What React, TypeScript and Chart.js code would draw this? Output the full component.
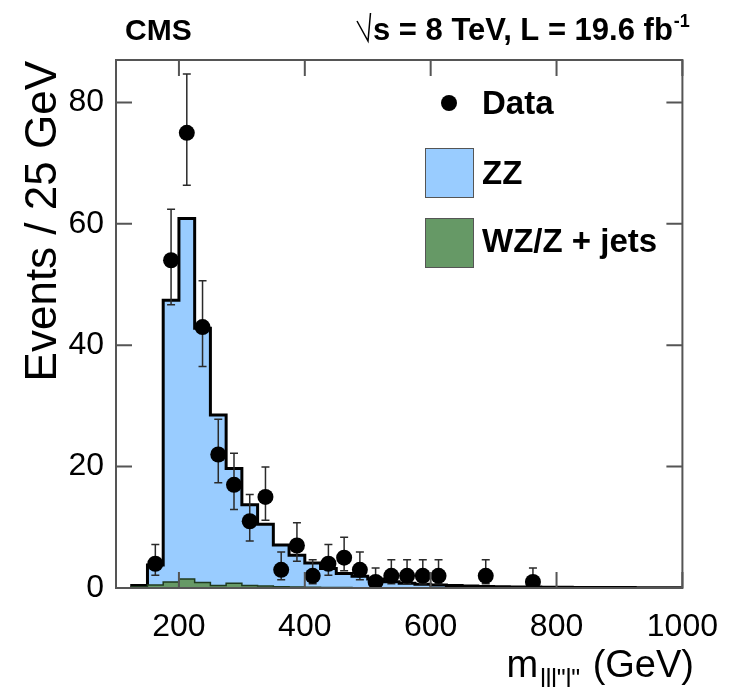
import React, { useEffect, useRef } from 'react';
import { Chart, registerables } from 'chart.js';

Chart.register(...registerables);

// ---------------- data ----------------
const binLowEdges = [125, 150, 175, 200, 225, 250, 275, 300, 325, 350, 375, 400, 425, 450, 475, 500, 525, 550, 575, 600, 625, 650, 675, 700, 725, 750, 775, 800, 825, 850, 875, 900, 925, 950, 975];
const histUpperEdge = 1000;
const wzValues = [0.2, 0.5, 1.0, 1.5, 0.9, 0.4, 0.8, 0.4, 0.35, 0.2, 0.15, 0.12, 0.1, 0.08, 0.06, 0.06, 0.05, 0.05, 0.04, 0.04, 0.03, 0.03, 0.02, 0.02, 0.02, 0.01, 0.01, 0.01, 0.01, 0.01, 0.01, 0, 0, 0, 0];
const zzValues = [0.2, 3.3, 46.4, 59.4, 41.9, 28.1, 18.9, 13.3, 10.15, 6.9, 5.25, 3.98, 3.1, 2.32, 1.89, 1.44, 1.0, 0.75, 0.56, 0.46, 0.37, 0.29, 0.24, 0.19, 0.16, 0.14, 0.12, 0.1, 0.09, 0.08, 0.07, 0.07, 0.06, 0.05, 0.05];

const dataCenters = [162.5, 187.5, 212.5, 237.5, 262.5, 287.5, 312.5, 337.5, 362.5, 387.5, 412.5, 437.5, 462.5, 487.5, 512.5, 537.5, 562.5, 587.5, 612.5, 687.5, 762.5];
const dataCounts = [4, 54, 75, 43, 22, 17, 11, 15, 3, 7, 2, 4, 5, 3, 1, 2, 2, 2, 2, 2, 1];
const dataErrLow = [1.91, 7.32, 8.63, 6.52, 4.65, 4.08, 3.26, 3.82, 1.63, 2.58, 1.29, 1.91, 2.16, 1.63, 0.83, 1.29, 1.29, 1.29, 1.29, 1.29, 0.83];
const dataErrHigh = [3.16, 8.4, 9.7, 7.62, 5.79, 5.2, 4.4, 4.95, 2.92, 3.77, 2.64, 3.16, 3.38, 2.92, 2.3, 2.64, 2.64, 2.64, 2.64, 2.64, 2.3];

const xTicks = [200, 400, 600, 800, 1000];
const yTicks = [0, 20, 40, 60, 80];
const xMin = 100;
const xMax = 1000;
const yMin = 0;
const yMax = 87;

const legendLabels = ['Data', 'ZZ', 'WZ/Z + jets'];
const yTitle = 'Events / 25 GeV';
const xTitleMain = 'm';
const xTitleSub = 'lll"l"';
const xTitleUnit = ' (GeV)';
const headerLeft = 'CMS';
const headerRight = 's = 8 TeV, L = 19.6 fb';
const headerSup = '-1';

// ---------------- style ----------------
const FONT = '"Liberation Sans", Arial, Helvetica, sans-serif';
const ZZ_COLOR = '#99ccff';
const WZ_COLOR = '#669966';
const FRAME_COLOR = '#555555';

function stepPoints(values: number[]) {
  const pts = [{ x: binLowEdges[0], y: 0 }];
  values.forEach((v, i) => pts.push({ x: binLowEdges[i], y: v }));
  pts.push({ x: histUpperEdge, y: values[values.length - 1] });
  return pts;
}

const totalValues = zzValues.map((v, i) => v + wzValues[i]);

const cmsPlugin = {
  id: 'cmsDecor',
  beforeDatasetDraw(chart: any, args: any) {
    if (args.index !== 0) return;
    const { ctx, scales } = chart;
    const xs = scales.x;
    const ys = scales.y;
    ctx.save();
    ctx.strokeStyle = '#2a2a2a';
    ctx.lineWidth = 1.5;
    dataCenters.forEach((c, i) => {
      const px = xs.getPixelForValue(c);
      const yTop = ys.getPixelForValue(dataCounts[i] + dataErrHigh[i]);
      const yBot = ys.getPixelForValue(Math.max(0, dataCounts[i] - dataErrLow[i]));
      ctx.beginPath();
      ctx.moveTo(px, yTop);
      ctx.lineTo(px, yBot);
      ctx.moveTo(px - 4, yTop);
      ctx.lineTo(px + 4, yTop);
      ctx.moveTo(px - 4, yBot);
      ctx.lineTo(px + 4, yBot);
      ctx.stroke();
    });
    ctx.restore();
  },
  afterDraw(chart: any) {
    const { ctx, chartArea, scales } = chart;
    const { left, right, top, bottom } = chartArea;
    const xs = scales.x;
    const ys = scales.y;
    ctx.save();
    // frame
    ctx.strokeStyle = FRAME_COLOR;
    ctx.lineWidth = 2;
    ctx.strokeRect(left, top, right - left, bottom - top);
    // inward ticks
    const tl = 16;
    ctx.beginPath();
    xTicks.forEach((t) => {
      const px = xs.getPixelForValue(t);
      ctx.moveTo(px, bottom);
      ctx.lineTo(px, bottom - tl);
      ctx.moveTo(px, top);
      ctx.lineTo(px, top + tl);
    });
    yTicks.forEach((t) => {
      const py = ys.getPixelForValue(t);
      ctx.moveTo(left, py);
      ctx.lineTo(left + tl, py);
      ctx.moveTo(right, py);
      ctx.lineTo(right - tl, py);
    });
    ctx.stroke();

    // legend
    ctx.fillStyle = '#000';
    ctx.beginPath();
    ctx.arc(449, 103, 8, 0, Math.PI * 2);
    ctx.fill();
    ctx.fillStyle = ZZ_COLOR;
    ctx.fillRect(425, 148, 48, 49);
    ctx.fillStyle = WZ_COLOR;
    ctx.fillRect(425, 218, 48, 49);
    ctx.strokeStyle = '#555';
    ctx.lineWidth = 1;
    ctx.strokeRect(425.5, 148.5, 48, 49);
    ctx.strokeRect(425.5, 218.5, 48, 49);
    ctx.fillStyle = '#000';
    ctx.font = `bold 33px ${FONT}`;
    ctx.textAlign = 'left';
    ctx.textBaseline = 'alphabetic';
    ctx.fillText(legendLabels[0], 482, 114);
    ctx.fillText(legendLabels[1], 482, 184);
    ctx.fillText(legendLabels[2], 482, 252);

    // header
    ctx.font = `bold 30px ${FONT}`;
    ctx.fillText(headerLeft, 125, 40);
    ctx.font = `bold 31px ${FONT}`;
    ctx.strokeStyle = '#000';
    ctx.lineWidth = 1.5;
    ctx.beginPath();
    ctx.moveTo(357, 21);
    ctx.lineTo(368, 41);
    ctx.lineTo(370.5, 13);
    ctx.stroke();
    ctx.fillText(headerRight, 373, 40);
    const hw = ctx.measureText(headerRight).width;
    ctx.font = `bold 18px ${FONT}`;
    ctx.fillText(headerSup, 373 + hw + 1, 27);

    // y title
    ctx.save();
    ctx.font = `44px ${FONT}`;
    ctx.translate(56, top + 1);
    ctx.rotate(-Math.PI / 2);
    ctx.textAlign = 'right';
    ctx.fillText(yTitle, 0, 0);
    ctx.restore();

    // x title (right aligned)
    const mainFont = `38px ${FONT}`;
    const subFont = `25px ${FONT}`;
    ctx.font = mainFont;
    const wm = ctx.measureText(xTitleMain).width;
    const wu = ctx.measureText(xTitleUnit).width;
    ctx.font = subFont;
    const ws = ctx.measureText(xTitleSub).width;
    const endX = 694;
    const startX = endX - wu - ws - wm - 4;
    const base = 677;
    ctx.textAlign = 'left';
    ctx.font = mainFont;
    ctx.fillText(xTitleMain, startX, base);
    ctx.font = subFont;
    ctx.fillText(xTitleSub, startX + wm + 2, base + 10);
    ctx.font = mainFont;
    ctx.fillText(xTitleUnit, startX + wm + ws + 4, base);
    ctx.restore();
  },
};

export default function App() {
  const ref = useRef<HTMLCanvasElement | null>(null);
  useEffect(() => {
    if (!ref.current) return;
    const chart = new Chart(ref.current, {
      type: 'line',
      data: {
        datasets: [
          {
            label: legendLabels[0],
            data: dataCenters.map((c, i) => ({ x: c, y: dataCounts[i] })),
            showLine: false,
            pointRadius: 8,
            pointHoverRadius: 8,
            pointBackgroundColor: '#000',
            pointBorderWidth: 0,
            borderColor: '#000',
            backgroundColor: '#000',
          },
          {
            label: legendLabels[2],
            data: stepPoints(wzValues),
            stepped: 'before',
            borderColor: '#1f3a1f',
            borderWidth: 1.5,
            backgroundColor: WZ_COLOR,
            fill: 'origin',
            pointRadius: 0,
          },
          {
            label: legendLabels[1],
            data: stepPoints(totalValues),
            stepped: 'before',
            borderColor: '#000',
            borderWidth: 3,
            backgroundColor: ZZ_COLOR,
            fill: 1,
            pointRadius: 0,
          },
        ],
      },
      options: {
        animation: false,
        responsive: false,
        devicePixelRatio: 1,
        events: [],
        layout: { padding: { left: 0, top: 60, right: 39, bottom: 0 }, autoPadding: false },
        plugins: { legend: { display: false }, tooltip: { enabled: false } },
        scales: {
          x: {
            type: 'linear',
            min: xMin,
            max: xMax,
            grid: { display: false, drawTicks: false, tickLength: 0 },
            border: { display: false },
            afterBuildTicks: (s: any) => {
              s.ticks = xTicks.map((v) => ({ value: v }));
            },
            afterFit: (s: any) => {
              s.height = 101;
            },
            ticks: {
              autoSkip: false,
              maxRotation: 0,
              color: '#000',
              padding: 20,
              font: { family: FONT, size: 32 },
              callback: (v: any) => String(v),
            },
          },
          y: {
            type: 'linear',
            min: yMin,
            max: yMax,
            grid: { display: false, drawTicks: false, tickLength: 0 },
            border: { display: false },
            afterBuildTicks: (s: any) => {
              s.ticks = yTicks.map((v) => ({ value: v }));
            },
            afterFit: (s: any) => {
              s.width = 116;
            },
            ticks: {
              autoSkip: false,
              color: '#000',
              padding: 12,
              font: { family: FONT, size: 32 },
              callback: (v: any) => String(v),
            },
          },
        },
      },
      plugins: [cmsPlugin],
    });
    return () => chart.destroy();
  }, []);
  return (
    <div style={{ position: 'absolute', left: 0, top: 0, width: 738, height: 689, background: '#fff' }}>
      <canvas ref={ref} width={738} height={689} />
    </div>
  );
}
